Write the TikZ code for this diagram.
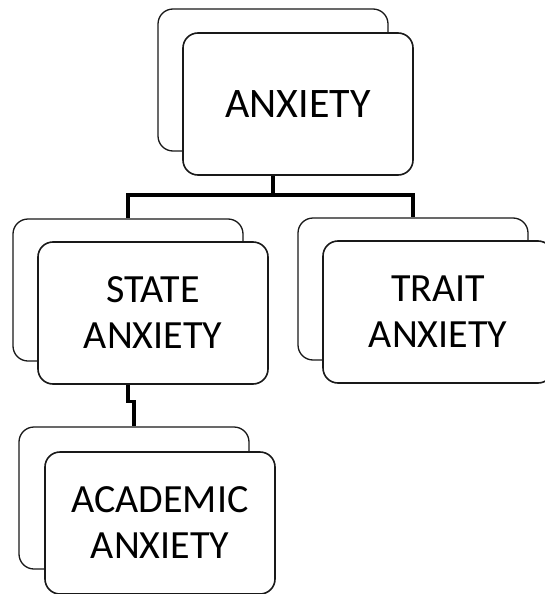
\documentclass[tikz,border=0pt]{standalone}
\usepackage{fontspec}
\setmainfont{Carlito}
\usepackage{tikz}
\usetikzlibrary{positioning,calc}

\begin{document}
\begin{tikzpicture}[x=1pt, y=-1pt,
    box/.style={draw=black!90, fill=white, rounded corners=15pt, minimum width=230pt,
                minimum height=142pt, inner sep=0pt, align=center,
                font=\fontsize{40}{46}\selectfont},
    backbox/.style={box, line width=1.3pt},
    frontbox/.style={box, line width=1.6pt},
    link/.style={line width=3.6pt, black}]
    \useasboundingbox (0,0) rectangle (545,594);
    % shadow boxes behind
    \node[backbox] (anxb) at (273,80) {};
    \node[backbox] (stateb) at (128,290) {};
    \node[backbox] (traitb) at (413,289) {};
    \node[backbox] (acadb) at (134,498) {};
    \coordinate (split) at (273,195);
    \draw[link] (anxb.south) -- (split) -| (stateb.north);
    \draw[link] (split) -| (traitb.north);
    \draw[link] (stateb.south) -- ++(0,40) -| (acadb.north);
    % front boxes
    \node[frontbox, font=\fontsize{42}{48}\selectfont] (anx) at ([shift={(25,24)}]anxb) {ANXIETY};
    \node[frontbox] (state) at ([shift={(25,23)}]stateb) {STATE\\ANXIETY};
    \node[frontbox] (trait) at ([shift={(25,23)}]traitb) {TRAIT\\ANXIETY};
    \node[frontbox] (acad) at ([shift={(26,25)}]acadb) {ACADEMIC\\ANXIETY};
\end{tikzpicture}
\end{document}
